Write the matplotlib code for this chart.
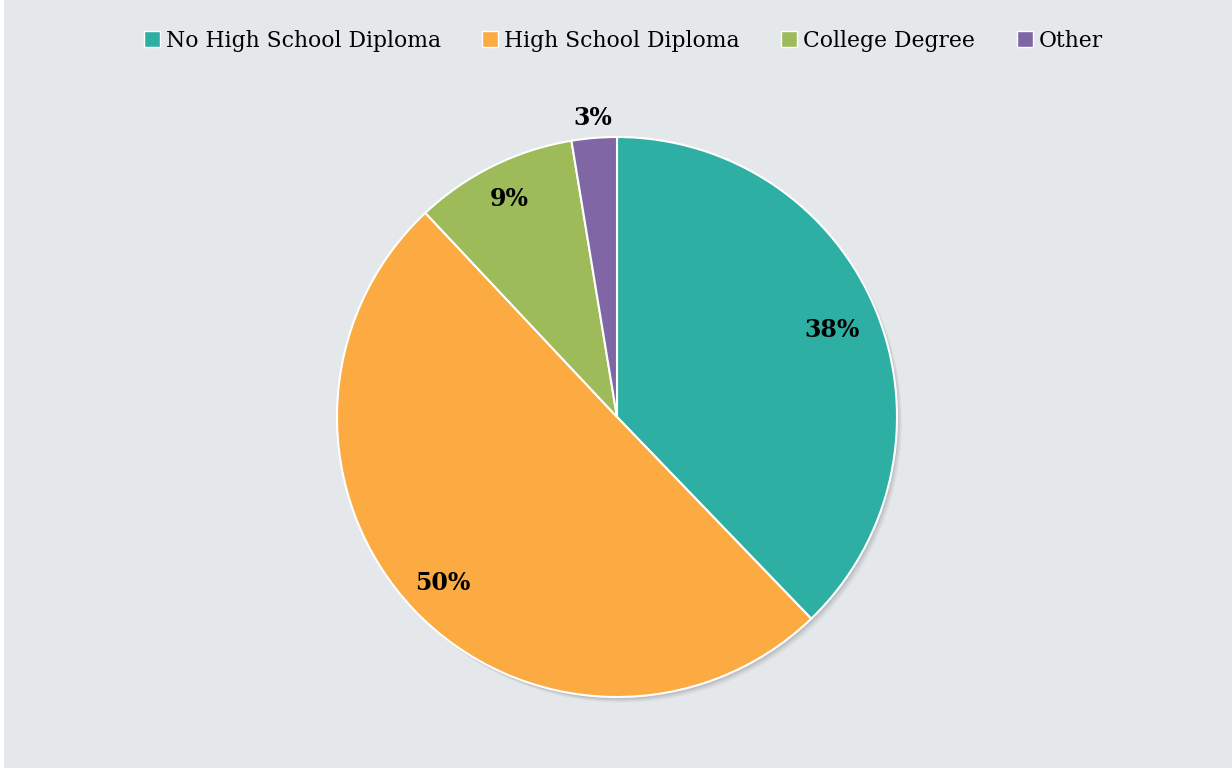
import matplotlib.pyplot as plt
from matplotlib.patches import Rectangle, Circle
from matplotlib.lines import Line2D
import numpy as np

# Répartition par niveau d'études
categories = ["No High School Diploma", "High School Diploma", "College Degree", "Other"]
valeurs = [37.8, 50.2, 9.4, 2.6]
couleurs = ["#2EAFA3", "#FCAA42", "#9DBB59", "#8066A5"]
# distance des étiquettes au centre (en rayons)
dist_etiquettes = [0.83, 0.86, 0.87, 1.07]

W, H = 1232, 771
fig = plt.figure(figsize=(W / 100, H / 100), dpi=100, facecolor="white")
fond = Rectangle((4 / W, 3 / H), 1 - 4 / W, 1 - 3 / H, transform=fig.transFigure,
                 facecolor="#E4E8EB", edgecolor="none", zorder=-10)
fig.patches.append(fond)

cx, cy, r = 617, H - 417, 280
ax = fig.add_axes([(cx - r) / W, (cy - r) / H, 2 * r / W, 2 * r / H])
ax.set_zorder(1)

# ombre légère sous le disque
for k, a in enumerate([0.05, 0.05, 0.04, 0.03]):
    ax.add_patch(Circle((0.006 + k * 0.004, -0.008 - k * 0.004), 1.0, facecolor="black",
                        alpha=a, edgecolor="none", zorder=1, clip_on=False))

wedges, _ = ax.pie(valeurs, colors=couleurs, startangle=90, counterclock=False, radius=1.0,
                   wedgeprops=dict(edgecolor="white", linewidth=1.5, zorder=2))
for w in wedges:
    w.set_clip_on(False)
    w.set_zorder(2)

# pie() élargit les limites, on les remet au rayon
ax.set_xlim(-1, 1)
ax.set_ylim(-1, 1)
ax.set_aspect("equal")
ax.axis("off")

for w, v, d in zip(wedges, valeurs, dist_etiquettes):
    ang = np.deg2rad((w.theta1 + w.theta2) / 2)
    ax.text(d * np.cos(ang), d * np.sin(ang), f"{int(v + 0.5)}%", ha="center", va="center",
            fontsize=17, fontweight="bold", family="DejaVu Serif", color="black", zorder=3)

handles = [Line2D([], [], marker="s", linestyle="none", markersize=11, markerfacecolor=c,
                  markeredgecolor="white", markeredgewidth=1.0) for c in couleurs]
leg = fig.legend(handles, categories, loc="center", bbox_to_anchor=(624 / W, 1 - 41 / H), ncol=4,
                 frameon=False, prop=dict(family="DejaVu Serif", size=15.75), handlelength=0.6,
                 handletextpad=0.35, columnspacing=1.95)

fig.savefig("out.png", dpi=100, facecolor="white")
